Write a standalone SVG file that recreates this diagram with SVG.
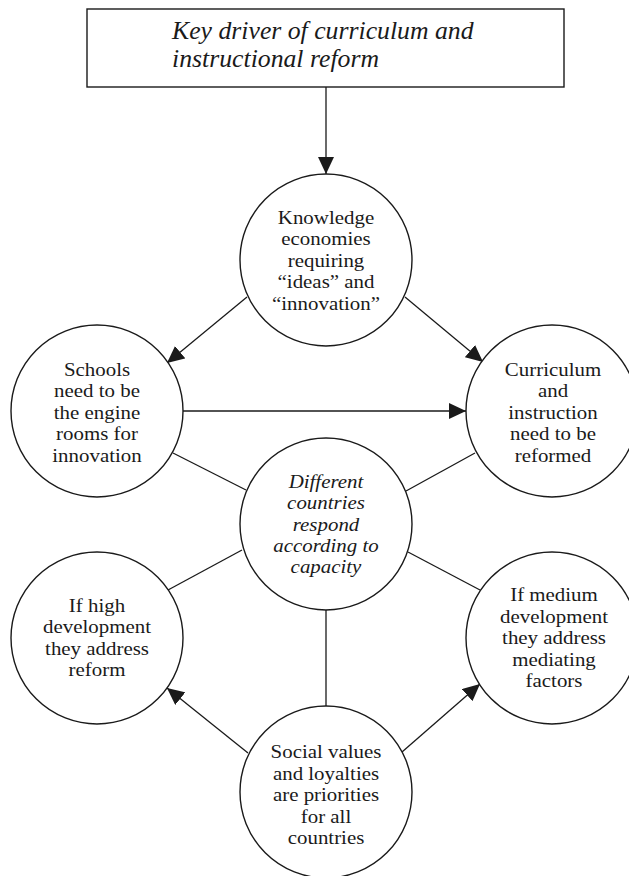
<svg xmlns="http://www.w3.org/2000/svg" width="629" height="876" viewBox="0 0 629 876">
<style>
  .shape { fill: #fff; stroke: #1a1a1a; stroke-width: 1.4; }
  .conn line { stroke: #1a1a1a; stroke-width: 1.3; }
  text { font-family: "Liberation Serif", "Times New Roman", serif; font-size: 19px; fill: #1a1a1a; text-anchor: middle; }
  .it { font-style: italic; }
  .title { font-size: 25px; text-anchor: start; }
</style>
<defs>
  <marker id="ah" viewBox="0 0 17 16" refX="17" refY="8" markerWidth="17" markerHeight="16" markerUnits="userSpaceOnUse" orient="auto">
    <path d="M0,0 L17,8 L0,16 z" fill="#1a1a1a"/>
  </marker>
</defs>
<rect width="629" height="876" fill="#fff"/>

<g id="connectors" class="conn">
  <line x1="326" y1="87" x2="326" y2="174" marker-end="url(#ah)"/>
  <line x1="247" y1="297" x2="167" y2="363" marker-end="url(#ah)"/>
  <line x1="405" y1="297" x2="483" y2="362" marker-end="url(#ah)"/>
  <line x1="183" y1="411" x2="466" y2="411" marker-end="url(#ah)"/>
  <line x1="173" y1="453" x2="246" y2="490"/>
  <line x1="406" y1="491" x2="475" y2="453"/>
  <line x1="242" y1="550" x2="168" y2="590"/>
  <line x1="408" y1="552" x2="480" y2="590"/>
  <line x1="326" y1="610" x2="326" y2="706"/>
  <line x1="248" y1="753" x2="167" y2="688" marker-end="url(#ah)"/>
  <line x1="402" y1="752" x2="480" y2="684" marker-end="url(#ah)"/>
</g>

<g id="key-driver">
  <rect class="shape" x="87" y="9" width="477" height="78"/>
  <g transform="translate(172,0) scale(1.03,1)">
    <text class="it title" x="0" y="39">Key driver of curriculum and</text>
    <text class="it title" x="0" y="67">instructional reform</text>
  </g>
</g>

<g id="knowledge">
  <circle class="shape" cx="326" cy="260" r="86"/>
  <g transform="translate(326,0) scale(1.1,1)">
    <text x="0" y="224">Knowledge</text>
    <text x="0" y="245.5">economies</text>
    <text x="0" y="267">requiring</text>
    <text x="0" y="288.5">“ideas” and</text>
    <text x="0" y="310">“innovation”</text>
  </g>
</g>

<g id="schools">
  <circle class="shape" cx="97" cy="411" r="86"/>
  <g transform="translate(97,0) scale(1.1,1)">
    <text x="0" y="376">Schools</text>
    <text x="0" y="397.5">need to be</text>
    <text x="0" y="419">the engine</text>
    <text x="0" y="440.5">rooms for</text>
    <text x="0" y="462">innovation</text>
  </g>
</g>

<g id="curriculum">
  <circle class="shape" cx="552" cy="411" r="86"/>
  <g transform="translate(553,0) scale(1.1,1)">
    <text x="0" y="376">Curriculum</text>
    <text x="0" y="397.5">and</text>
    <text x="0" y="419">instruction</text>
    <text x="0" y="440.5">need to be</text>
    <text x="0" y="462">reformed</text>
  </g>
</g>

<g id="different">
  <circle class="shape" cx="326" cy="524" r="86"/>
  <g transform="translate(326,0) scale(1.1,1)">
    <text class="it" x="0" y="488">Different</text>
    <text class="it" x="0" y="509.5">countries</text>
    <text class="it" x="0" y="531">respond</text>
    <text class="it" x="0" y="552">according to</text>
    <text class="it" x="0" y="573">capacity</text>
  </g>
</g>

<g id="high">
  <circle class="shape" cx="97" cy="638" r="86"/>
  <g transform="translate(97,0) scale(1.1,1)">
    <text x="0" y="612">If high</text>
    <text x="0" y="633.5">development</text>
    <text x="0" y="655">they address</text>
    <text x="0" y="676.5">reform</text>
  </g>
</g>

<g id="medium">
  <circle class="shape" cx="552" cy="638" r="86"/>
  <g transform="translate(554,0) scale(1.1,1)">
    <text x="0" y="601.5">If medium</text>
    <text x="0" y="623">development</text>
    <text x="0" y="644.5">they address</text>
    <text x="0" y="666">mediating</text>
    <text x="0" y="687">factors</text>
  </g>
</g>

<g id="social">
  <circle class="shape" cx="326" cy="792" r="86"/>
  <g transform="translate(326,0) scale(1.1,1)">
    <text x="0" y="758">Social values</text>
    <text x="0" y="780">and loyalties</text>
    <text x="0" y="801.5">are priorities</text>
    <text x="0" y="823">for all</text>
    <text x="0" y="844">countries</text>
  </g>
</g>
</svg>
